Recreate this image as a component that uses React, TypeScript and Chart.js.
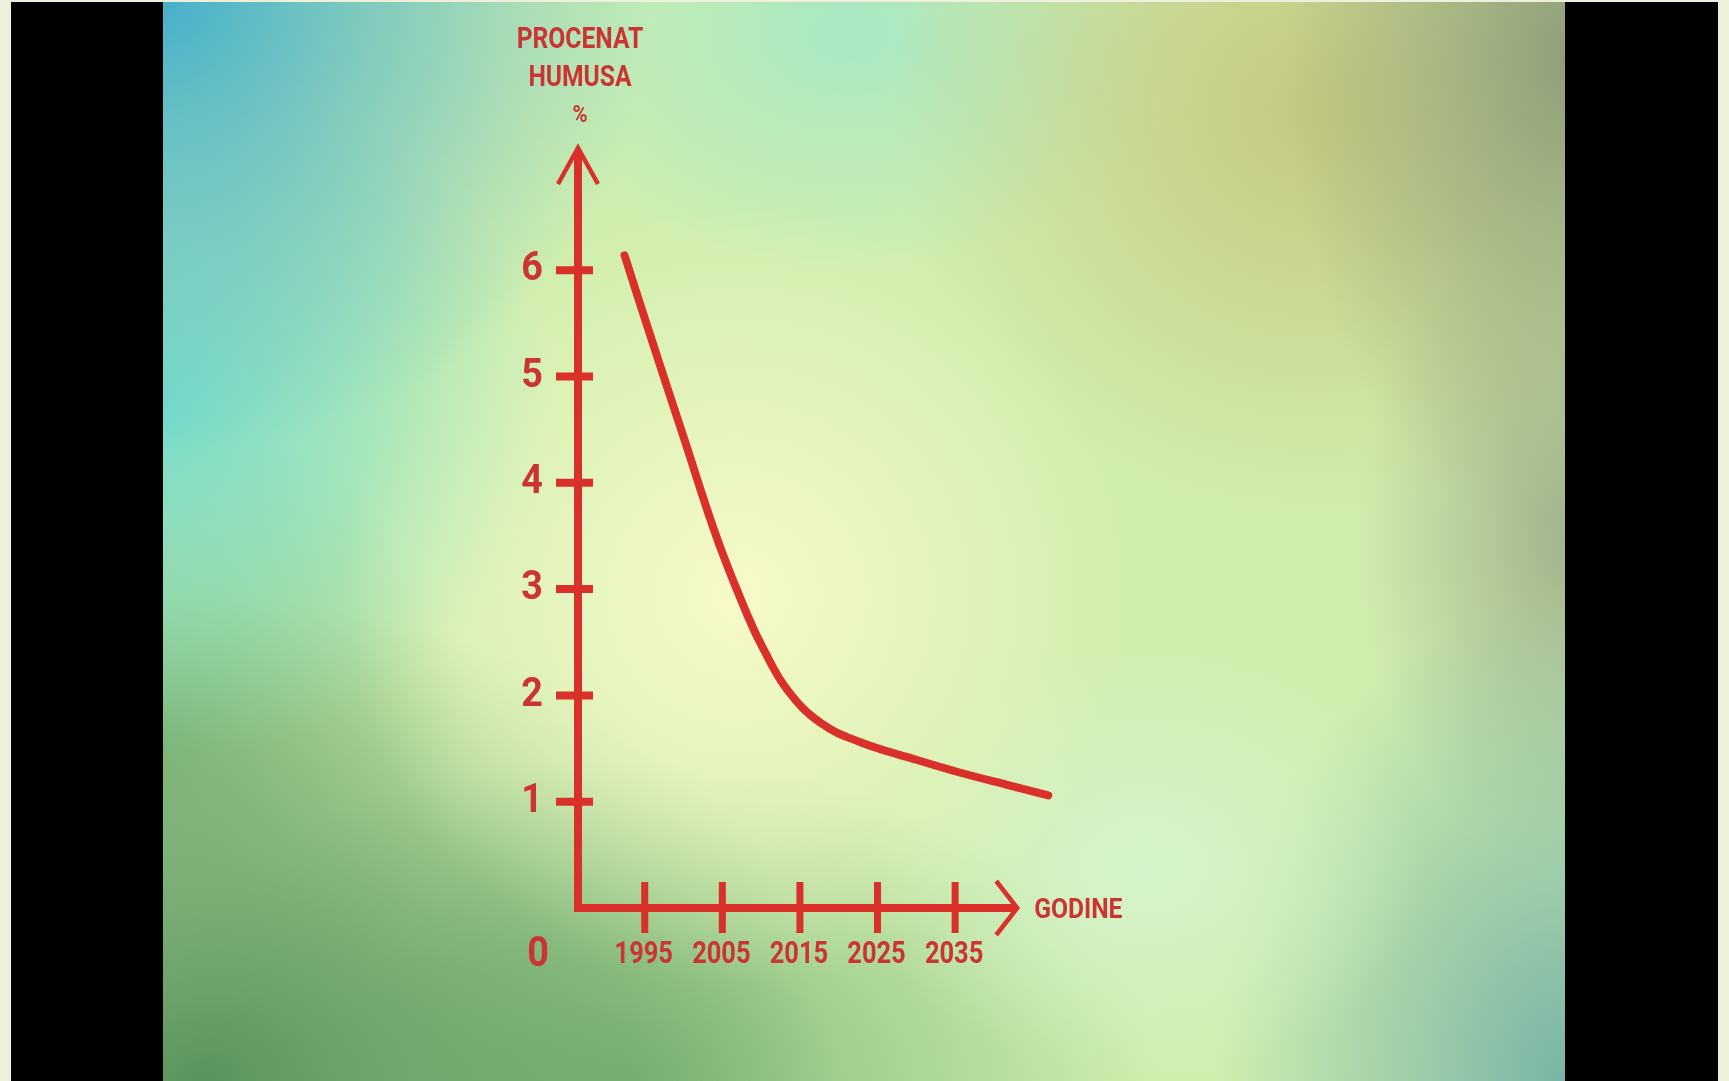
import React, { useEffect, useRef } from "react";
import { Chart, registerables } from "chart.js";

Chart.register(...registerables);

// ---- data ----
const years = [1992.4, 1995.3, 2000.1, 2004.4, 2008.2, 2010.2, 2013.4, 2017.7, 2022.8, 2029.3, 2035.8, 2042.2, 2047.0];
const humus = [6.14, 5.48, 4.41, 3.46, 2.76, 2.45, 2.05, 1.74, 1.56, 1.41, 1.27, 1.15, 1.06];
const yTickValues = [1, 2, 3, 4, 5, 6];
const xTickYears = [1995, 2005, 2015, 2025, 2035];
const titleLines = ["PROCENAT", "HUMUSA", "%"];
const xAxisTitle = "GODINE";
const originLabel = "0";
const X_MIN = 1986.4;
const X_MAX = 2048;
const X_ARROW = 2043;
const Y_MIN = 0;
const Y_MAX = 7.15;

const RED = "#d9302c";
const TEXT_RED = "#cc3434";
const FONT = "Roboto, 'DejaVu Sans', sans-serif";

function drawText(ctx: CanvasRenderingContext2D, text: string, cx: number, cy: number, size: number, align: CanvasTextAlign, sx = 0.86) {
  ctx.save();
  ctx.translate(cx, cy);
  ctx.scale(sx, 1);
  ctx.font = `bold ${size}px ${FONT}`;
  ctx.fillStyle = TEXT_RED;
  ctx.textAlign = align;
  ctx.textBaseline = "middle";
  ctx.fillText(text, 0, 0);
  ctx.restore();
}

const handAxes = {
  id: "handAxes",
  beforeDatasetsDraw(chart: any) {
    const { ctx, scales } = chart;
    const x = scales.x;
    const y = scales.y;
    const x0 = x.getPixelForValue(X_MIN);
    const y0 = y.getPixelForValue(Y_MIN);
    const yTip = y.getPixelForValue(Y_MAX);
    const xTip = x.getPixelForValue(X_ARROW);
    ctx.save();
    ctx.strokeStyle = RED;
    ctx.lineCap = "butt";
    // y axis
    ctx.lineWidth = 8;
    ctx.beginPath();
    ctx.moveTo(x0, y0 + 4);
    ctx.lineTo(x0, yTip + 3);
    ctx.stroke();
    // x axis
    ctx.beginPath();
    ctx.moveTo(x0 - 4, y0);
    ctx.lineTo(xTip - 3, y0);
    ctx.stroke();
    // arrows
    ctx.lineWidth = 4.5;
    ctx.lineJoin = "miter";
    ctx.beginPath();
    ctx.moveTo(x0 - 20, yTip + 36);
    ctx.lineTo(x0, yTip);
    ctx.lineTo(x0 + 20, yTip + 36);
    ctx.stroke();
    ctx.beginPath();
    ctx.moveTo(xTip - 21, y0 - 27);
    ctx.lineTo(xTip, y0);
    ctx.lineTo(xTip - 21, y0 + 27);
    ctx.stroke();
    // y ticks
    ctx.lineWidth = 8;
    yTickValues.forEach((v) => {
      const py = y.getPixelForValue(v);
      ctx.beginPath();
      ctx.moveTo(x0 - 22, py);
      ctx.lineTo(x0 + 15, py);
      ctx.stroke();
      drawText(ctx, String(v), x0 - 46, py, 41, "center", 0.92);
    });
    // x ticks
    ctx.lineWidth = 7;
    xTickYears.forEach((yr) => {
      const px = x.getPixelForValue(yr);
      ctx.beginPath();
      ctx.moveTo(px, y0 - 26);
      ctx.lineTo(px, y0 + 25);
      ctx.stroke();
      drawText(ctx, String(yr), px - 1, y0 + 47, 31, "center", 0.82);
    });
    // origin, axis titles
    drawText(ctx, originLabel, x0 - 40, y0 + 47, 42, "center", 0.9);
    drawText(ctx, xAxisTitle, xTip + 17, y0 + 3, 28, "left", 0.88);
    const titleY = [yTip - 107, yTip - 69, yTip - 32];
    const titleSize = [29, 29, 24];
    titleLines.forEach((t, i) => drawText(ctx, t, x0 + 2, titleY[i], titleSize[i], "center", 0.85));
    ctx.restore();
  },
};

const gradientBg = [
  "radial-gradient(ellipse 28% 36% at 41% 55%, rgba(247,250,200,1), rgba(247,250,200,0))",
  "radial-gradient(ellipse 20% 20% at 70% 80%, rgba(214,244,206,0.9), rgba(214,244,206,0))",
  "radial-gradient(ellipse 35% 42% at 0% 0%, rgba(70,176,202,1), rgba(70,176,202,0))",
  "radial-gradient(ellipse 28% 32% at 0% 38%, rgba(120,220,202,1), rgba(120,220,202,0))",
  "radial-gradient(ellipse 45% 45% at 3% 100%, rgba(88,148,92,1), rgba(88,148,92,0))",
  "radial-gradient(ellipse 38% 30% at 33% 100%, rgba(128,186,120,1), rgba(128,186,120,0))",
  "radial-gradient(ellipse 22% 30% at 0% 68%, rgba(140,196,130,1), rgba(140,196,130,0))",
  "radial-gradient(ellipse 20% 45% at 100% 5%, rgba(144,159,120,1), rgba(144,159,120,0))",
  "radial-gradient(ellipse 30% 38% at 82% 10%, rgba(197,200,128,1), rgba(197,200,128,0))",
  "radial-gradient(ellipse 25% 45% at 100% 100%, rgba(120,180,166,1), rgba(120,180,166,0))",
  "radial-gradient(ellipse 15% 30% at 100% 50%, rgba(162,180,140,1), rgba(162,180,140,0))",
  "radial-gradient(ellipse 25% 22% at 49% 3%, rgba(168,232,196,1), rgba(168,232,196,0))",
  "linear-gradient(#d0eeae, #d0eeae)",
].join(", ");

export default function App() {
  const canvasRef = useRef<HTMLCanvasElement | null>(null);

  useEffect(() => {
    const canvas = canvasRef.current;
    if (!canvas) return;
    const chart = new Chart(canvas, {
      type: "line",
      data: {
        datasets: [
          {
            data: years.map((yr, i) => ({ x: yr, y: humus[i] })),
            borderColor: RED,
            borderWidth: 8,
            borderCapStyle: "round",
            borderJoinStyle: "round",
            pointRadius: 0,
            fill: false,
            tension: 0.4,
          },
        ],
      },
      options: {
        responsive: false,
        animation: false,
        devicePixelRatio: 1,
        layout: { padding: { left: 578, right: 673, top: 148, bottom: 173 } },
        plugins: { legend: { display: false }, tooltip: { enabled: false }, title: { display: false } },
        scales: {
          x: { type: "linear", min: X_MIN, max: X_MAX, display: false },
          y: { type: "linear", min: Y_MIN, max: Y_MAX, display: false },
        },
      },
      plugins: [handAxes],
    } as any);
    return () => chart.destroy();
  }, []);

  return (
    <div style={{ position: "fixed", left: 0, top: 0, width: 1729, height: 1081, background: "#edf1dc", overflow: "hidden" }}>
      <div style={{ position: "absolute", left: 11, top: 2, width: 1707, height: 1079, background: "#000" }} />
      <div style={{ position: "absolute", left: 163, top: 2, width: 1402, height: 1079, background: gradientBg }} />
      <canvas ref={canvasRef} width={1729} height={1081} style={{ position: "absolute", left: 0, top: 0, width: 1729, height: 1081 }} />
    </div>
  );
}
